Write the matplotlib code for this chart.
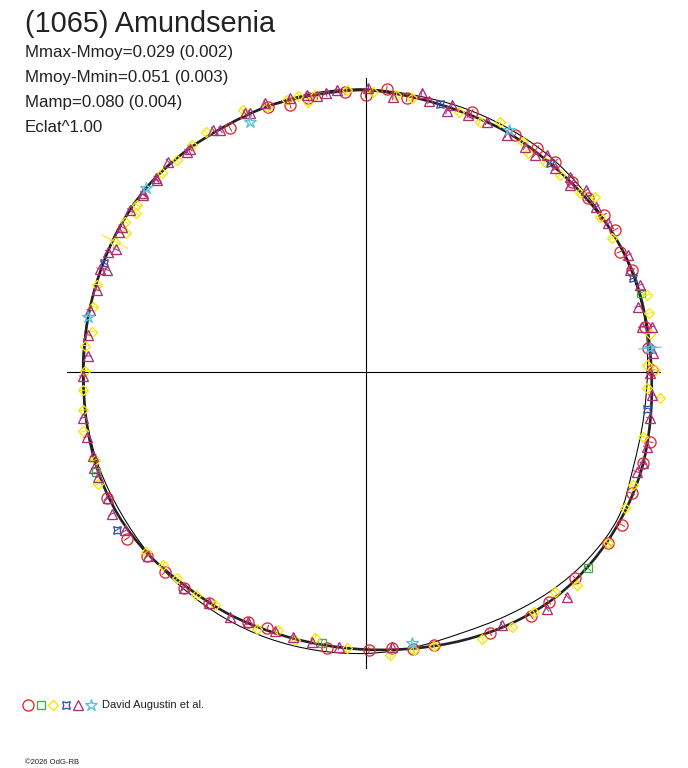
import numpy as np
import matplotlib
matplotlib.use('Agg')
import matplotlib.pyplot as plt
from matplotlib.path import Path
from matplotlib.patches import PathPatch

plt.rcParams['font.family'] = ['Liberation Sans', 'DejaVu Sans']

# fitted light curves (relative flux, every 10 degrees of phase)
fit_phase = np.arange(0, 360, 10)
fit_flux = [1.009, 1.006, 1.006, 0.999, 0.988, 0.981, 0.981, 0.977, 0.982, 0.993,
            0.992, 0.997, 0.997, 1.004, 1.009, 1.006, 1.000, 0.997, 0.995, 1.000,
            1.007, 1.009, 1.002, 0.988, 0.983, 0.977, 0.976, 0.981, 0.992, 1.009,
            1.027, 1.041, 1.044, 1.041, 1.034, 1.020]
alt_flux = [0.995, 1.002, 1.002, 0.999, 0.999, 0.999, 0.995, 0.992, 0.990, 0.997,
            0.999, 0.999, 0.999, 1.004, 1.007, 1.004, 1.000, 0.999, 0.999, 0.999,
            0.999, 0.997, 0.999, 1.000, 1.002, 1.002, 0.999, 0.995, 0.988, 0.983,
            0.995, 1.013, 1.027, 1.030, 1.004, 0.995]

# observations: phase (deg) and relative flux
red_phase = [90, 85.7, 81.4, 67.7, 57.7, 52.5, 47.9, 42.6, 37.9, 33.3, 29.6, 25.2, 20.9,
             9.1, 4.7, 0.3, 346.1, 341.7, 335.4, 329.1, 324.7, 315.4, 308.5, 304.1,
             295.5, 284, 279.8, 275.4, 270.7, 262, 249.1, 244.9, 235.9, 230, 225,
             220.2, 215, 206.2, 94.2, 101.8, 105.8, 110.2, 119.1]
red_flux = [0.976, 0.999, 0.975, 0.988, 0.988, 0.992, 0.998, 0.988, 0.994, 1.005, 1.013,
            0.992, 1.005, 0.999, 1.001, 1.010, 1.034, 1.032, 1.033, 1.054, 1.049, 1.039,
            1.038, 1.044, 1.021, 0.994, 0.995, 0.981, 0.983, 0.986, 0.970, 0.975, 0.986,
            0.998, 1.002, 1.008, 1.028, 1.015, 0.990, 0.985, 0.977, 0.993, 0.982]

grn_phase = [16, 318.5, 260.8, 200.5]
grn_flux = [1.010, 1.049, 0.969, 1.015]

yel_phase = [88.5, 83.6, 80.4, 70.3, 65.4, 61.6, 55.5, 53.3, 49.4, 45.3, 39.7, 37.3,
             33.4, 28.4, 15.2, 11.6, 7.6, 1.3, 0.3, 356.6, 354.9, 346.8, 337, 332.2,
             324.7, 314.7, 310.7, 305, 299.8, 293.6, 284, 279.8, 275, 266.1, 259.3,
             255.3, 251.4, 247.1, 237.2, 232.9, 227.7, 223.6, 219.5, 202.8, 198.1,
             192, 187.8, 183.8, 179.8, 174.7, 171.7, 166.6, 162.1, 152.6, 149.9,
             148.1, 145.4, 143.9, 135.8, 131.8, 127.5, 123.7, 115.2, 110.4, 106.2,
             103.7, 102, 100.3, 93.8]
yel_flux = [0.988, 0.981, 0.977, 0.974, 0.970, 0.999, 0.983, 0.961, 0.974, 0.976, 0.984,
            1.018, 0.992, 0.988, 1.028, 1.022, 1.013, 0.993, 1.022, 0.994, 1.043, 1.007,
            1.027, 1.035, 1.048, 1.059, 1.025, 1.035, 1.037, 1.031, 0.999, 0.999, 1.004,
            0.979, 0.958, 0.980, 0.963, 0.987, 0.980, 0.989, 0.987, 0.989, 1.004, 1.023,
            1.004, 1.018, 1.007, 0.998, 0.990, 0.993, 0.976, 0.987, 0.994, 0.995, 0.975,
            1.000, 0.984, 0.997, 1.003, 1.000, 1.008, 1.014, 1.019, 0.995, 0.998, 0.999,
            0.973, 0.992, 0.995]

blu_phase = [74.4, 48.5, 19.2, 352.5, 212.5, 157.5]
blu_flux = [0.980, 0.983, 0.998, 1.001, 1.038, 0.999]

tri_phase = [89.4, 84.3, 78.6, 76.9, 72.7, 72, 68.2, 64.1, 59.2, 54.6, 52, 50.1, 47,
             43.6, 42.4, 39.4, 35.5, 31.4, 23.9, 21, 17.5, 13.4, 9.2, 8.9, 3.6, 359.6,
             355.3, 350.7, 345, 341.7, 339.7, 311.9, 307.4, 298.3, 275.4, 264.4, 258.7,
             254.8, 250.8, 244.9, 241.1, 235.9, 230, 220.2, 213.5, 209.3, 206.2, 201.5,
             199.5, 197.2, 193.2, 189.3, 180.9, 176.8, 172.5, 167.4, 163.1, 158.9,
             158.5, 155, 153.9, 150.4, 149.3, 145.6, 141.5, 137.5, 141.3, 137.3, 133.2,
             129.1, 128.2, 122.2, 121, 115, 114.1, 110.5, 105.4, 102, 100, 98, 95.8]
tri_flux = [0.999, 0.974, 1.001, 0.981, 0.963, 0.988, 0.975, 0.980, 0.972, 0.973, 0.970,
            0.996, 0.980, 0.996, 0.976, 1.008, 1.001, 1.004, 1.014, 1.000, 1.016, 0.989,
            0.987, 1.022, 1.018, 1.004, 1.013, 1.017, 1.027, 1.032, 1.020, 1.067, 1.053,
            1.016, 0.975, 0.976, 0.972, 0.970, 0.969, 0.976, 0.991, 0.988, 0.995, 1.006,
            1.016, 1.027, 1.013, 1.013, 1.016, 1.006, 1.010, 1.009, 0.998, 0.980, 0.987,
            0.996, 0.991, 1.004, 0.982, 1.001, 0.980, 0.999, 1.001, 1.006, 1.002, 0.999,
            1.005, 1.005, 1.016, 1.000, 1.001, 1.007, 0.994, 1.005, 0.998, 1.011, 1.000,
            0.998, 0.987, 0.992, 0.999]

cya_phase = [59.4, 4.7, 279.7, 140.2, 168.8, 114.9]
cya_flux = [0.992, 1.007, 0.973, 1.009, 0.997, 0.972]

# typical flux error per series, and the few points with wide error bars
series_err = [0.011, 0.011, 0.011, 0.011, 0.011, 0.012]
wide_phase = [152.6, 4.7]
wide_err = [0.050, 0.040]
wide_series = [2, 5]

author = 'David Augustin et al.'
title = '(1065) Amundsenia'
info = ['Mmax-Mmoy=0.029 (0.002)', 'Mmoy-Mmin=0.051 (0.003)',
        'Mamp=0.080 (0.004)', 'Eclat^1.00']

series = [
    (red_phase, red_flux, 'o', '#e4262f', 8.0),
    (grn_phase, grn_flux, 's', '#4caa40', 5.8),
    (yel_phase, yel_flux, 'D', '#f5e800', 5.4),
    (blu_phase, blu_flux, (4, 1, 45), '#3450a6', 7.8),
    (tri_phase, tri_flux, '^', '#ac2f76', 7.8),
    (cya_phase, cya_flux, '*', '#58c2dc', 9.2),
]

W, H = 688, 768
cx, cy, scale = 365.5, 371.5, 283.4  # centre and px per flux unit


def closed_curve(phase, flux):
    # smooth closed Bezier path through the points (Catmull-Rom)
    a = np.deg2rad(phase)
    p = np.column_stack([np.array(flux) * np.cos(a), np.array(flux) * np.sin(a)])
    n = len(p)
    verts, codes = [p[0]], [Path.MOVETO]
    for i in range(n):
        p0, p1, p2, p3 = p[i - 1], p[i], p[(i + 1) % n], p[(i + 2) % n]
        verts += [p1 + (p2 - p0) / 6, p2 - (p3 - p1) / 6, p2]
        codes += [Path.CURVE4] * 3
    return Path(verts, codes)


fig = plt.figure(figsize=(W / 100, H / 100), dpi=100)
ax = fig.add_axes([0, 0, 1, 1])
ax.set_xlim(-cx / scale, (W - cx) / scale)
ax.set_ylim(-(H - cy) / scale, cy / scale)
ax.axis('off')

ax.plot([-1.053, 1.039], [0, 0], color='black', lw=0.8, zorder=1)
ax.plot([0, 0], [-1.046, 1.036], color='black', lw=0.8, zorder=1)

ax.add_patch(PathPatch(closed_curve(fit_phase, alt_flux), fill=False,
                       ec='black', lw=0.75, zorder=2))
ax.add_patch(PathPatch(closed_curve(fit_phase, fit_flux), fill=False,
                       ec='#222222', lw=1.9, zorder=2))

for k, (ph, fl, mk, col, ms) in enumerate(series):
    a = np.deg2rad(ph)
    f = np.array(fl)
    e = np.full(len(f), series_err[k])
    for p, we, s in zip(wide_phase, wide_err, wide_series):
        if s == k:
            e[np.isclose(ph, p)] = we
    xs, ys = [], []
    for ai, fi, ei in zip(a, f, e):
        xs += [(fi - ei) * np.cos(ai), (fi + ei) * np.cos(ai), np.nan]
        ys += [(fi - ei) * np.sin(ai), (fi + ei) * np.sin(ai), np.nan]
    ax.plot(xs, ys, color=col, lw=0.75, zorder=3)
    ax.plot(f * np.cos(a), f * np.sin(a), ls='none', marker=mk, mfc='none',
            mec=col, ms=ms, mew=0.95, zorder=3)

# legend symbols
for k, (ph, fl, mk, col, ms) in enumerate(series):
    fig.lines.append(plt.Line2D([(28 + 12.5 * k) / W], [1 - 705 / H], ls='none',
                                marker=mk, mfc='none', mec=col, ms=ms, mew=0.95,
                                transform=fig.transFigure))
fig.text(102 / W, 1 - 705 / H, author, fontsize=8.0, color='#222222', va='center')

fig.text(25 / W, 1 - 32 / H, title, fontsize=20.8, color='#222222', va='baseline')
for i, s in enumerate(info):
    fig.text(25 / W, 1 - (57 + 25 * i) / H, s, fontsize=12.2, color='#222222',
             va='baseline')
fig.text(25 / W, 1 - 764 / H, '©2026 OdG-RB', fontsize=5.5, color='#222222',
         va='baseline')

fig.savefig('out.png', dpi=100)
